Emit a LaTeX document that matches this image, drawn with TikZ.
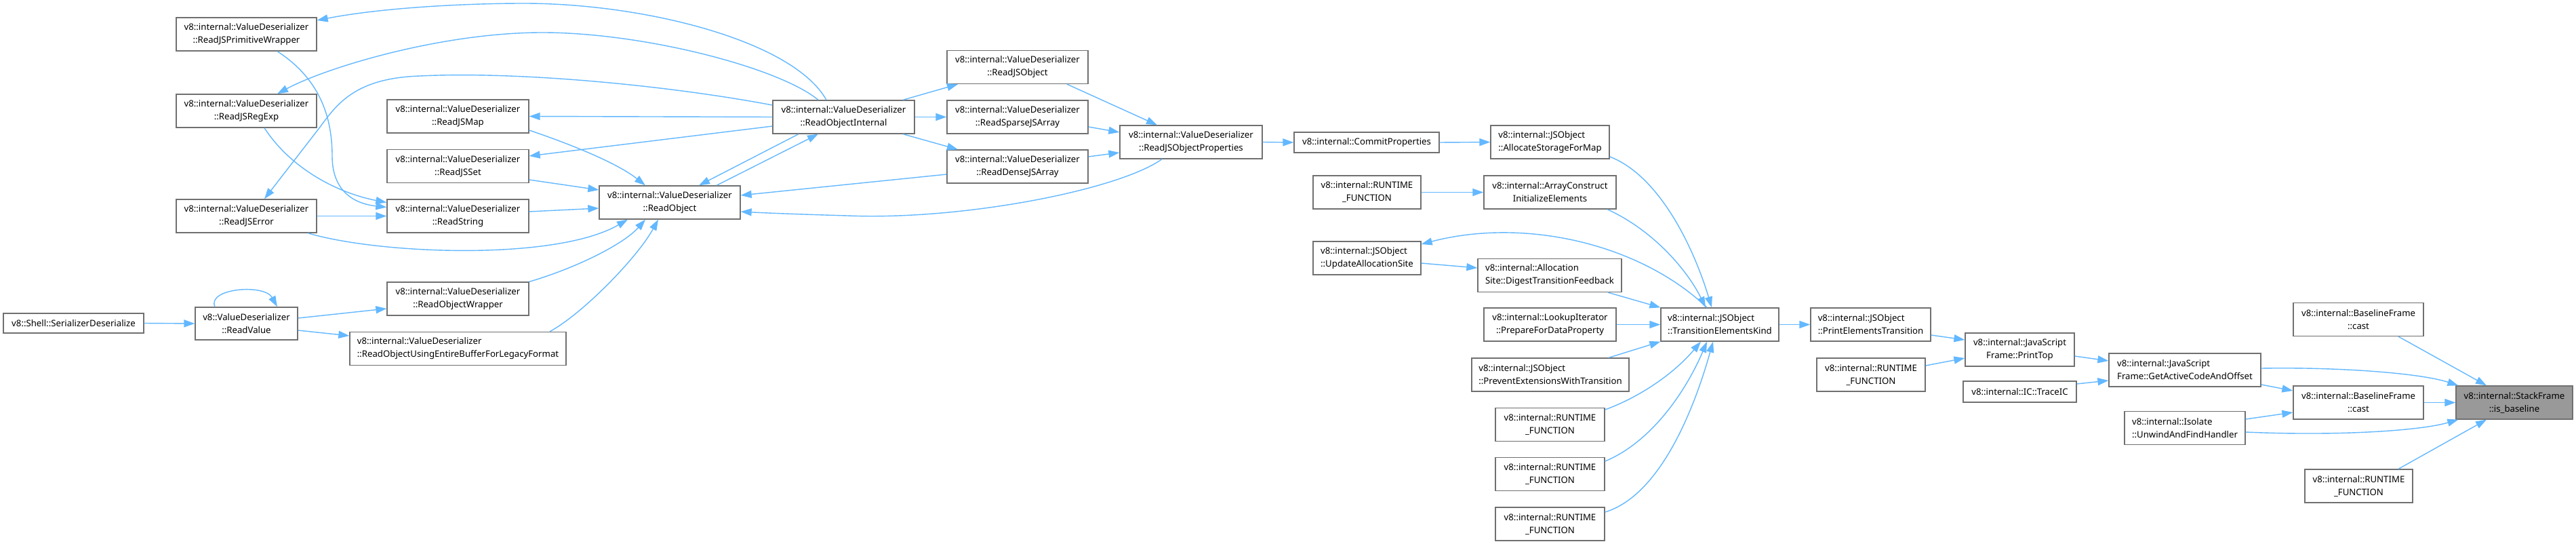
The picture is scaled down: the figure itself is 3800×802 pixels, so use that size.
\documentclass[tikz,border=0pt]{standalone}
\usepackage{fontspec}
\setmainfont{Noto Sans}
\usetikzlibrary{arrows.meta,calc}
\definecolor{edgec}{HTML}{63B8FF}
\definecolor{bord}{HTML}{707070}
\definecolor{focus}{HTML}{999999}
\tikzset{
 nd/.style={draw=bord, line width=1.3pt, fill=white, inner sep=0pt, font=\fontsize{13.2}{19}\selectfont, align=center, minimum height=49pt},
 ndl/.style={nd, align=left},
 edg/.style={draw=edgec, line width=1.4pt, -{Triangle[length=16pt,width=11pt]}},
}
\begin{document}
\begin{tikzpicture}[x=1pt,y=-1pt]
\useasboundingbox[fill=white] (0,0) rectangle (3800,802);
% nodes
\node[nd, minimum width=207pt, minimum height=29pt] (ser) at (108.5,476.5) {v8::Shell::SerializerDeserialize};
\node[nd, minimum width=151pt, minimum height=48pt] (rv) at (363.5,477) {v8::ValueDeserializer\\::ReadValue};
\node[nd, minimum width=207pt] (pw) at (363.5,50.5) {v8::internal::ValueDeserializer\\::ReadJSPrimitiveWrapper};
\node[nd, minimum width=207pt] (re) at (363.5,163.5) {v8::internal::ValueDeserializer\\::ReadJSRegExp};
\node[nd, minimum width=207pt] (er) at (363.5,318.5) {v8::internal::ValueDeserializer\\::ReadJSError};
\node[nd, minimum width=209pt] (map) at (675.5,171.5) {v8::internal::ValueDeserializer\\::ReadJSMap};
\node[nd, minimum width=209pt] (set) at (675.5,245) {v8::internal::ValueDeserializer\\::ReadJSSet};
\node[nd, minimum width=209pt] (str) at (675.5,318.5) {v8::internal::ValueDeserializer\\::ReadString};
\node[nd, minimum width=209pt] (ow) at (675.5,440.5) {v8::internal::ValueDeserializer\\::ReadObjectWrapper};
\node[ndl, minimum width=319pt] (leg) at (675.5,514) {v8::internal::ValueDeserializer\\::ReadObjectUsingEntireBufferForLegacyFormat};
\node[nd, minimum width=208pt] (ro) at (988,298.5) {v8::internal::ValueDeserializer\\::ReadObject};
\node[nd, minimum width=209pt] (roi) at (1244.5,172.5) {v8::internal::ValueDeserializer\\::ReadObjectInternal};
\node[nd, minimum width=208pt] (jso) at (1501,99) {v8::internal::ValueDeserializer\\::ReadJSObject};
\node[nd, minimum width=208pt] (sparse) at (1501,172.5) {v8::internal::ValueDeserializer\\::ReadSparseJSArray};
\node[nd, minimum width=208pt] (dense) at (1501,245.5) {v8::internal::ValueDeserializer\\::ReadDenseJSArray};
\node[nd, minimum width=210pt] (props) at (1757,209.5) {v8::internal::ValueDeserializer\\::ReadJSObjectProperties};
\node[nd, minimum width=214pt, minimum height=30pt] (commit) at (2016,210) {v8::internal::CommitProperties};
\node[ndl, minimum width=175pt] (alloc) at (2286.5,209.5) {v8::internal::JSObject\\::AllocateStorageForMap};
\node[nd, minimum width=159pt] (rf1) at (2016.5,283.5) {v8::internal::RUNTIME\\\_FUNCTION};
\node[nd, minimum width=195pt] (arr) at (2286.5,283.5) {v8::internal::ArrayConstruct\\InitializeElements};
\node[ndl, minimum width=159pt] (uas) at (2016.5,380.5) {v8::internal::JSObject\\::UpdateAllocationSite};
\node[ndl, minimum width=212pt] (dig) at (2286,406) {v8::internal::Allocation\\Site::DigestTransitionFeedback};
\node[nd, minimum width=195pt] (look) at (2286.5,478.5) {v8::internal::LookupIterator\\::PrepareForDataProperty};
\node[ndl, minimum width=232pt] (prev) at (2287,552.5) {v8::internal::JSObject\\::PreventExtensionsWithTransition};
\node[nd, minimum width=161pt] (rf2) at (2286.5,626) {v8::internal::RUNTIME\\\_FUNCTION};
\node[nd, minimum width=161pt] (rf3) at (2286.5,699) {v8::internal::RUNTIME\\\_FUNCTION};
\node[nd, minimum width=161pt] (rf4) at (2286.5,772.5) {v8::internal::RUNTIME\\\_FUNCTION};
\node[ndl, minimum width=174pt] (tek) at (2537,478.5) {v8::internal::JSObject\\::TransitionElementsKind};
\node[ndl, minimum width=177pt] (pet) at (2759.5,478.5) {v8::internal::JSObject\\::PrintElementsTransition};
\node[nd, minimum width=160pt] (rf5) at (2760,552.5) {v8::internal::RUNTIME\\\_FUNCTION};
\node[nd, minimum width=161pt] (pt) at (2979.5,515.5) {v8::internal::JavaScript\\Frame::PrintTop};
\node[nd, minimum width=167pt, minimum height=31pt] (ic) at (2979.5,577.5) {v8::internal::IC::TraceIC};
\node[ndl, minimum width=224pt] (gac) at (3223,545.5) {v8::internal::JavaScript\\Frame::GetActiveCodeAndOffset};
\node[ndl, minimum width=178pt] (unw) at (3223,631) {v8::internal::Isolate\\::UnwindAndFindHandler};
\node[nd, minimum width=192pt] (bc1) at (3479,471) {v8::internal::BaselineFrame\\::cast};
\node[nd, minimum width=192pt] (bc2) at (3479,593.5) {v8::internal::BaselineFrame\\::cast};
\node[nd, fill=focus, minimum width=172pt] (isb) at (3709,593.5) {v8::internal::StackFrame\\::is\_baseline};
\node[nd, minimum width=159pt] (rf6) at (3479.5,716.5) {v8::internal::RUNTIME\\\_FUNCTION};
% edges
\draw[edg] (ser.east) -- (rv.west);
\draw[edg] ($(rv.north)+(-46.5,0)$) .. controls (305,425) and (390,418) .. ($(rv.north)+(45.5,0)$);
\draw[edg] ($(rv.east)+(0,-8)$) -- ($(ow.west)+(0,14.5)$);
\draw[edg] ($(rv.east)+(0,10)$) -- ($(leg.west)+(0,-19)$);
\draw[edg] (ow.north east) .. controls (850,395) and (920,360) .. ($(ro.south)+(-36,0)$);
\draw[edg] ($(leg.north)+(135.5,0)$) .. controls (860,462) and (940,380) .. ($(ro.south)+(-17,0)$);
\draw[edg] (er.east) -- (str.west);
\draw[edg] ($(er.south)+(90.5,0)$) .. controls (560,375) and (820,385) .. ($(ro.south)+(-62,0)$);
\draw[edg] ($(re.south)+(26.5,0)$) .. controls (430,250) and (500,285) .. ($(str.west)+(0,-20)$);
\draw[edg] ($(pw.south)+(45.5,0)$) .. controls (470,115) and (490,170) .. (490,230) .. controls (490,280) and (520,300) .. ($(str.west)+(0,-13)$);
\draw[edg] ($(str.east)+(0,-6.5)$) -- ($(ro.west)+(0,8.5)$);
\draw[edg] ($(set.east)+(0,20)$) -- ($(ro.west)+(0,-18.5)$);
\draw[edg] ($(map.east)+(0,20.5)$) .. controls (840,212) and (910,240) .. ($(ro.north)+(-36,0)$);
\draw[edg] ($(ro.north)+(69,0)$) -- ($(roi.south)+(-37.5,0)$);
\draw[edg] ($(roi.south)+(-66.5,0)$) -- ($(ro.north)+(43,0)$);
\draw[edg] ($(roi.north)+(-25.5,0)$) .. controls (1170,60) and (950,5) .. (773,5) .. controls (680,5) and (560,12) .. ($(pw.east)+(0,-20.5)$);
\draw[edg] ($(roi.north)+(-37.5,0)$) .. controls (1150,100) and (950,48) .. (800,48) .. controls (650,48) and (480,100) .. ($(re.north)+(45.5,0)$);
\draw[edg] ($(roi.west)+(0,-17.5)$) .. controls (980,125) and (760,105) .. (620,112) .. controls (520,115) and (495,157) .. (470,190) -- ($(er.north)+(26.5,0)$);
\draw[edg] (roi.west) -- (map.east);
\draw[edg] ($(roi.west)+(0,13.5)$) -- ($(set.east)+(0,-15)$);
\draw[edg] ($(roi.north)+(87.5,0)$) -- ($(jso.south)+(-88,0)$);
\draw[edg] (roi.east) -- (sparse.west);
\draw[edg] ($(roi.south)+(87.5,0)$) -- ($(dense.north)+(-88,0)$);
\draw[edg] ($(jso.south)+(73,0)$) -- ($(props.north)+(-50,0)$);
\draw[edg] ($(sparse.east)+(0,14.5)$) -- ($(props.west)+(0,-14.5)$);
\draw[edg] ($(dense.east)+(0,-14.5)$) -- ($(props.west)+(0,15.5)$);
\draw[edg] ($(dense.west)+(0,11.5)$) -- ($(ro.east)+(0,-10.5)$);
\draw[edg] ($(props.south)+(-43,0)$) .. controls (1650,280) and (1420,325) .. (1250,318) .. controls (1180,316) and (1130,314) .. ($(ro.east)+(0,13.5)$);
\draw[edg] (props.east) -- (commit.west);
\draw[edg] (commit.east) -- (alloc.west);
\draw[edg] ($(alloc.east)+(0,21.5)$) .. controls (2450,260) and (2500,370) .. ($(tek.north)+(-12,0)$);
\draw[edg] (rf1.east) -- (arr.west);
\draw[edg] ($(arr.south)+(84.5,0)$) .. controls (2440,340) and (2490,400) .. ($(tek.north)+(-21,0)$);
\draw[edg] ($(tek.north)+(-19,0)$) .. controls (2420,360) and (2250,320) .. ($(uas.east)+(0,-20.5)$);
\draw[edg] ($(uas.east)+(0,7.5)$) -- ($(dig.west)+(0,-11)$);
\draw[edg] ($(dig.south)+(86,0)$) -- (tek.north west);
\draw[edg] (look.east) -- (tek.west);
\draw[edg] ($(prev.north)+(86,0)$) -- (tek.south west);
\draw[edg] ($(rf2.east)+(0,-22)$) .. controls (2420,585) and (2470,550) .. ($(tek.south)+(-28,0)$);
\draw[edg] ($(rf3.east)+(0,-19)$) .. controls (2440,650) and (2490,570) .. ($(tek.south)+(-19,0)$);
\draw[edg] ($(rf4.east)+(0,-17.5)$) .. controls (2450,730) and (2500,600) .. ($(tek.south)+(-10,0)$);
\draw[edg] (tek.east) -- (pet.west);
\draw[edg] ($(pet.east)+(0,15.5)$) -- ($(pt.west)+(0,-14.5)$);
\draw[edg] ($(rf5.east)+(0,-13.5)$) -- ($(pt.west)+(0,12.5)$);
\draw[edg] ($(pt.east)+(0,9.5)$) -- ($(gac.west)+(0,-13.5)$);
\draw[edg] ($(ic.east)+(0,-11.5)$) -- ($(gac.west)+(0,15.5)$);
\draw[edg] ($(gac.east)+(0,21.5)$) -- ($(bc2.west)+(0,-17.5)$);
\draw[edg] ($(gac.east)+(0,-2.5)$) .. controls (3450,541) and (3570,550) .. ($(isb.north west)+(4,0)$);
\draw[edg] ($(unw.east)+(0,-13)$) -- ($(bc2.west)+(0,14.5)$);
\draw[edg] ($(unw.east)+(0,6)$) .. controls (3450,643) and (3570,635) .. ($(isb.south west)+(4,0)$);
\draw[edg] ($(bc1.south)+(59,0)$) -- ($(isb.north)+(-41,0)$);
\draw[edg] (bc2.east) -- (isb.west);
\draw[edg] ($(rf6.north)+(58.5,0)$) -- ($(isb.south)+(-41,0)$);
\end{tikzpicture}
\end{document}
